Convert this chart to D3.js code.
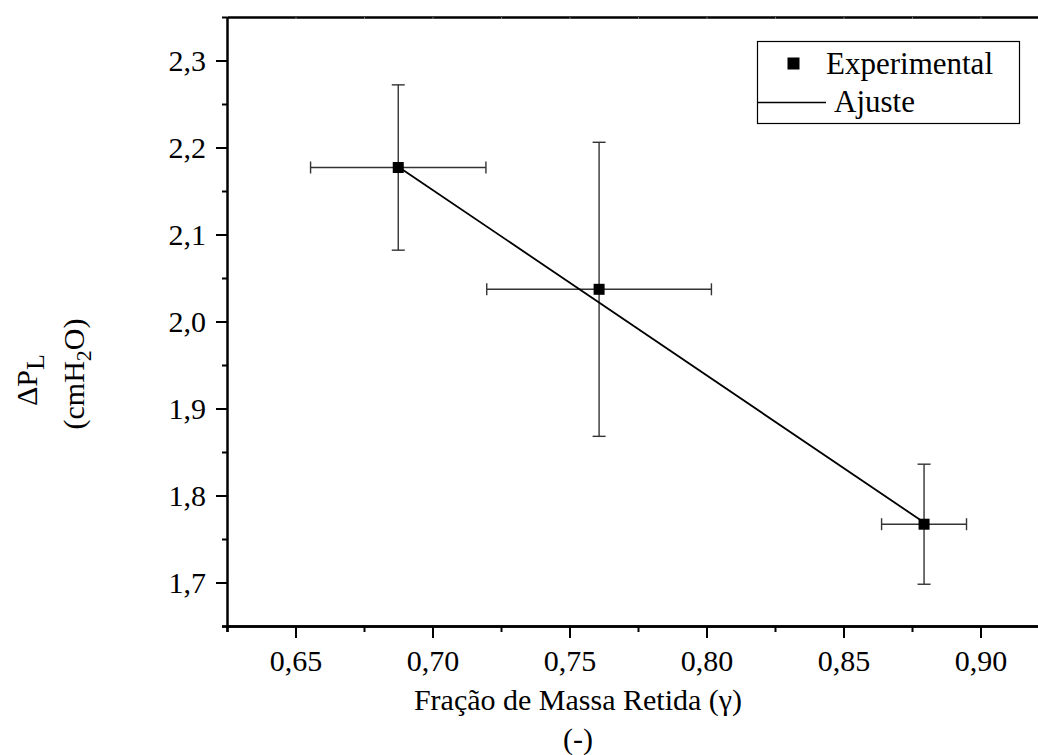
<!DOCTYPE html>
<html>
<head>
<meta charset="utf-8">
<script src="https://cdn.jsdelivr.net/npm/d3@7"></script>
<style>
  html, body { margin: 0; padding: 0; background: #fff; }
  svg { display: block; font-family: "Liberation Serif", "Times New Roman", serif; }
</style>
</head>
<body>
<svg id="chart" width="1038" height="755"></svg>
<script>
// ---- data ----
const xVals = [0.6875, 0.7608, 0.8794];
const yVals = [2.177, 2.037, 1.767];
const xErr  = [0.032, 0.041, 0.0155];
const yErr  = [0.095, 0.169, 0.069];
const fitX  = [0.6875, 0.8794];
const fitY  = [2.178, 1.769];
const xMajorTicks = [0.65, 0.70, 0.75, 0.80, 0.85, 0.90];
const xMinorTicks = [0.625, 0.675, 0.725, 0.775, 0.825, 0.875, 0.925];
const yMajorTicks = [1.7, 1.8, 1.9, 2.0, 2.1, 2.2, 2.3];
const yMinorTicks = [1.65, 1.75, 1.85, 1.95, 2.05, 2.15, 2.25, 2.35];
const xTitle = "Fração de Massa Retida (γ)";
const xUnit = "(-)";
const legendLabels = ["Experimental", "Ajuste"];

const svg = d3.select("#chart");
const x = d3.scaleLinear().domain([0.625, 0.925]).range([227, 1049]);
const y = d3.scaleLinear().domain([1.65, 2.35]).range([626, 17]);
const fmt = d => d3.format(".2f")(d).replace(".", ",");
const fmtY = d => d3.format(".1f")(d).replace(".", ",");

function styleAxis(g, width) {
  g.select(".domain").attr("stroke", "#000").attr("stroke-width", width);
  g.selectAll(".tick line").attr("stroke", "#000").attr("stroke-width", 2);
  g.selectAll(".tick text").attr("fill", "#000").attr("font-size", 30)
    .attr("font-family", "Liberation Serif, Times New Roman, serif");
}

// top frame line with tiny inward ticks
const topAxis = svg.append("g").attr("transform", `translate(0,${y(2.35)})`)
  .call(d3.axisTop(x).tickValues(xMajorTicks.concat(xMinorTicks)).tickSize(-2).tickFormat("").tickSizeOuter(0));
styleAxis(topAxis, 2.5);
topAxis.selectAll(".tick line").attr("stroke", "#777").attr("stroke-width", 1);

// bottom axis
const bMinor = svg.append("g").attr("transform", `translate(0,${y(1.65)})`)
  .call(d3.axisBottom(x).tickValues(xMinorTicks).tickSize(6).tickFormat("").tickSizeOuter(0));
styleAxis(bMinor, 2.5);
const bMajor = svg.append("g").attr("transform", `translate(0,${y(1.65)})`)
  .call(d3.axisBottom(x).tickValues(xMajorTicks).tickSize(12).tickPadding(12).tickFormat(fmt).tickSizeOuter(0));
styleAxis(bMajor, 2.5);
bMajor.select(".domain").attr("d", `M${x(0.625) - 5},0.5H${x(0.925)}`);

// left axis
const lMinor = svg.append("g").attr("transform", `translate(${x(0.625)},0)`)
  .call(d3.axisLeft(y).tickValues(yMinorTicks).tickSize(5).tickFormat("").tickSizeOuter(0));
styleAxis(lMinor, 2.5);
lMinor.select(".domain").attr("d", `M0.5,${y(2.35)}V${y(1.65) + 6}`);
const lMajor = svg.append("g").attr("transform", `translate(${x(0.625)},0)`)
  .call(d3.axisLeft(y).tickValues(yMajorTicks).tickSize(11).tickPadding(10).tickFormat(fmtY).tickSizeOuter(0));
styleAxis(lMajor, 0);
lMajor.select(".domain").remove();

// error bars
const data = xVals.map((v, i) => ({x: v, y: yVals[i], ex: xErr[i], ey: yErr[i]}));
const eb = svg.append("g").attr("stroke", "#333").attr("stroke-width", 1.4).attr("fill", "none");
data.forEach(d => {
  const cx = x(d.x), cy = y(d.y);
  const x0 = x(d.x - d.ex), x1 = x(d.x + d.ex);
  const y0 = y(d.y + d.ey), y1 = y(d.y - d.ey);
  eb.append("line").attr("x1", x0).attr("x2", x1).attr("y1", cy).attr("y2", cy);
  eb.append("line").attr("x1", x0).attr("x2", x0).attr("y1", cy - 6).attr("y2", cy + 6);
  eb.append("line").attr("x1", x1).attr("x2", x1).attr("y1", cy - 6).attr("y2", cy + 6);
  eb.append("line").attr("x1", cx).attr("x2", cx).attr("y1", y0).attr("y2", y1);
  eb.append("line").attr("x1", cx - 6.5).attr("x2", cx + 6.5).attr("y1", y0).attr("y2", y0);
  eb.append("line").attr("x1", cx - 6.5).attr("x2", cx + 6.5).attr("y1", y1).attr("y2", y1);
});

// fit line
const fitData = fitX.map((v, i) => [v, fitY[i]]);
svg.append("path").datum(fitData)
  .attr("d", d3.line().x(d => x(d[0])).y(d => y(d[1])))
  .attr("fill", "none").attr("stroke", "#000").attr("stroke-width", 1.8);

// markers
svg.append("g").selectAll("rect").data(data).join("rect")
  .attr("x", d => x(d.x) - 5.5).attr("y", d => y(d.y) - 5.5)
  .attr("width", 11).attr("height", 11).attr("fill", "#000");

// axis titles
svg.append("text").attr("x", 578).attr("y", 710).attr("text-anchor", "middle")
  .attr("font-size", 30).attr("fill", "#000").text(xTitle);
svg.append("text").attr("x", 578).attr("y", 749).attr("text-anchor", "middle")
  .attr("font-size", 30).attr("fill", "#000").text(xUnit);

const yt1 = svg.append("text").attr("transform", "translate(37,380) rotate(-90)")
  .attr("text-anchor", "middle").attr("font-size", 30).attr("fill", "#000");
yt1.append("tspan").text("ΔP");
yt1.append("tspan").attr("dy", 7).attr("font-size", 26).text("L");

const yt2 = svg.append("text").attr("transform", "translate(84,374) rotate(-90)")
  .attr("text-anchor", "middle").attr("font-size", 30).attr("fill", "#000");
yt2.append("tspan").text("(cmH");
yt2.append("tspan").attr("dy", 7).attr("font-size", 22).text("2");
yt2.append("tspan").attr("dy", -7).text("O)");

// legend
const lg = svg.append("g");
lg.append("rect").attr("x", 757.5).attr("y", 41.5).attr("width", 262).attr("height", 82)
  .attr("fill", "#fff").attr("stroke", "#000").attr("stroke-width", 1.2);
lg.append("rect").attr("x", 787.5).attr("y", 57.5).attr("width", 12).attr("height", 12).attr("fill", "#000");
lg.append("text").attr("x", 826).attr("y", 73.5).attr("font-size", 31).attr("fill", "#000").text(legendLabels[0]);
lg.append("line").attr("x1", 758).attr("x2", 826).attr("y1", 102.5).attr("y2", 102.5)
  .attr("stroke", "#000").attr("stroke-width", 1.6);
lg.append("text").attr("x", 834).attr("y", 112).attr("font-size", 31).attr("fill", "#000").text(legendLabels[1]);
</script>
</body>
</html>
